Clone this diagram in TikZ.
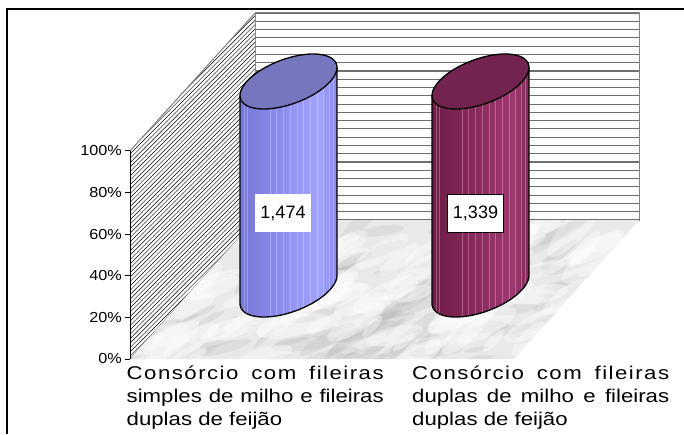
\documentclass[tikz,border=0pt]{standalone}
\usepackage{fontspec}
\setmainfont{Liberation Sans}
\newfontfamily\catfont[FakeStretch=1.2]{Liberation Sans}
\newfontfamily\catfontls[FakeStretch=1.2,LetterSpace=8]{Liberation Sans}
\newfontfamily\tickfont[FakeStretch=1.12]{Liberation Sans}
\definecolor{cAa}{RGB}{118,118,212}
\definecolor{cAb}{RGB}{140,140,240}
\definecolor{cAc}{RGB}{162,162,255}
\definecolor{cAd}{RGB}{136,136,236}
\definecolor{cAtop}{RGB}{118,118,190}
\definecolor{cBa}{RGB}{112,30,72}
\definecolor{cBb}{RGB}{134,40,90}
\definecolor{cBc}{RGB}{160,56,112}
\definecolor{cBd}{RGB}{132,40,90}
\definecolor{cBtop}{RGB}{114,36,78}
\definecolor{wallline}{RGB}{110,110,110}
\pgfdeclarehorizontalshading{cylA}{100bp}{color(0bp)=(cAa); color(25bp)=(cAa); color(45bp)=(cAb); color(66bp)=(cAc); color(75bp)=(cAd); color(100bp)=(cAd)}
\pgfdeclarehorizontalshading{cylB}{100bp}{color(0bp)=(cBa); color(25bp)=(cBa); color(45bp)=(cBb); color(66bp)=(cBc); color(75bp)=(cBd); color(100bp)=(cBd)}
\tikzset{
  tick/.style={font=\tickfont\fontsize{14.5}{17}\selectfont, anchor=east, inner sep=0},
  vlabel/.style={fill=white, minimum width=56pt, minimum height=38pt, inner sep=0, font=\fontsize{18}{20}\selectfont},
  catline/.style={anchor=base west, inner sep=0, font=\catfont\fontsize{18.5}{23}\selectfont},
  catlinels/.style={anchor=base west, inner sep=0, font=\catfontls\fontsize{18.5}{23}\selectfont},
  outline/.style={draw=black, line width=1.3pt, line join=round},
}
\begin{document}
\begin{tikzpicture}[x=1pt,y=1pt]
\useasboundingbox (0,0) rectangle (684,434);
% outer frame
\draw[line width=2pt] (7,0) -- (7,424.5) -- (684,424.5);
% back wall
\fill[white] (255,214) rectangle (639,421);
\foreach \i in {0,...,25}
  \draw[wallline, line width=1.1pt] (255,{421-\i*8.28}) -- (639,{421-\i*8.28});
\draw[gray, line width=1pt] (255,214) rectangle (639,421);
% left wall with hatching
\begin{scope}
  \clip (130,75) -- (130,283) -- (255,421) -- (255,214) -- cycle;
  \fill[white] (120,60) rectangle (260,430);
  \foreach \y in {-60,-55.6,...,300}
    \draw[line width=0.45pt] (120,\y) -- ++(145,145);
\end{scope}
\draw[gray, line width=1pt] (130,283) -- (255,421);
\draw[gray, line width=1pt] (130,75) -- (255,214);
% floor (marble)
\begin{scope}
  \clip (130,75) -- (255,214) -- (639,214) -- (514,75) -- cycle;
  \fill[gray!17] (100,60) rectangle (660,230);
  \pgfmathsetseed{11}
  \foreach \i in {1,...,130}{
    \pgfmathsetmacro\s{rnd}
    \pgfmathsetmacro\u{rnd}
    \pgfmathsetmacro\px{130+384*\s+125*\u}
    \pgfmathsetmacro\py{75+139*\u}
    \pgfmathsetmacro\rr{4+11*rnd}
    \pgfmathsetmacro\ang{5+40*rnd}
    \fill[gray!80, opacity=0.14, rotate around={\ang:(\px,\py)}] (\px,\py) ellipse [x radius=2.3*\rr, y radius=0.45*\rr];
  }
  \foreach \i in {1,...,80}{
    \pgfmathsetmacro\s{rnd}
    \pgfmathsetmacro\u{rnd}
    \pgfmathsetmacro\px{130+384*\s+125*\u}
    \pgfmathsetmacro\py{75+139*\u}
    \pgfmathsetmacro\rr{6+14*rnd}
    \pgfmathsetmacro\ang{10+40*rnd}
    \fill[white, opacity=0.4, rotate around={\ang:(\px,\py)}] (\px,\py) ellipse [x radius=2*\rr, y radius=0.6*\rr];
  }
\end{scope}
% value axis
\draw[line width=1pt] (130,75) -- (130,283);
\foreach \k/\t in {0/0\%,1/20\%,2/40\%,3/60\%,4/80\%,5/100\%}{
  \draw[line width=1pt] (125,{75+\k*41.6}) -- (130,{75+\k*41.6});
  \node[tick] (t\k) at (122,{75+\k*41.6}) {\t};
}
% cylinders
\foreach \cx/\sh/\tp in {288.5/cylA/cAtop, 480.5/cylB/cBtop}{
  \pgfmathsetmacro\xl{\cx-48.46}
  \pgfmathsetmacro\xr{\cx+48.46}
  \shade[shading=\sh] plot[domain=210.64:390.64, samples=60] ({\cx+41.7*cos(\x)+24.7*sin(\x)},{144.5+27.5*sin(\x)}) -- (\xr,366.52) -- (\xl,338.48) -- cycle;
  \begin{scope}
    \clip plot[domain=210.64:390.64, samples=60] ({\cx+41.7*cos(\x)+24.7*sin(\x)},{144.5+27.5*sin(\x)}) -- (\xr,366.52) -- (\xl,338.48) -- cycle;
    \foreach \o in {-44,-41,-18,-12,-5,2,9,15,22,29,35,41,45}
      \draw[white, opacity=0.28, line width=0.5pt] ({\cx+\o},100) -- ++(0,280);
  \end{scope}
  \draw[outline] (\xl,338.48) -- plot[domain=210.64:390.64, samples=60] ({\cx+41.7*cos(\x)+24.7*sin(\x)},{144.5+27.5*sin(\x)}) -- (\xr,366.52);
  \draw[outline, fill=\tp] plot[domain=0:360, samples=73] ({\cx+41.7*cos(\x)+24.7*sin(\x)},{352.5+27.5*sin(\x)}) -- cycle;
}
% value labels
\node[vlabel] (v1) at (283,221) {1,474};
\node[vlabel, draw=black, line width=0.6pt] (v2) at (475.5,220.5) {1,339};
% category labels
\node[catlinels] (a1) at (126.5,54.7) {\makebox[257pt][s]{Consórcio com fileiras}};
\node[catline] (a2) at (126.5,31.7) {\makebox[257pt][s]{simples de milho e fileiras}};
\node[catline] (a3) at (126.5,8.7) {duplas de feijão};
\node[catlinels] (b1) at (412,54.7) {\makebox[257pt][s]{Consórcio com fileiras}};
\node[catline] (b2) at (412,31.7) {\makebox[257pt][s]{duplas de milho e fileiras}};
\node[catline] (b3) at (412,8.7) {duplas de feijão};
\end{tikzpicture}
\end{document}
